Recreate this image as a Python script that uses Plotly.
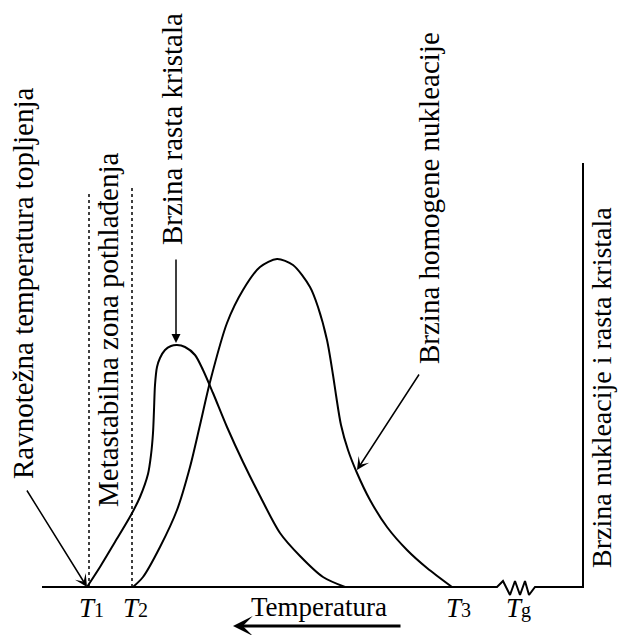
import plotly.graph_objects as go

# Horizontal position (temperature axis, decreasing to the right) and rate (above baseline)
growth_x = [87, 100, 115, 131, 140, 148, 151, 153, 154, 155, 157, 160, 165, 171, 177, 185, 195, 203, 213, 227, 243, 260, 280, 300, 323, 345]
growth_y = [0, 20, 45, 72, 90, 113, 132, 154, 177, 202, 220, 229, 237, 241, 242, 240, 232, 217, 194, 160, 125, 91, 54, 31, 10, 0]

nucl_x = [133, 143, 160, 177, 190, 200, 210, 227, 243, 260, 277, 293, 310, 318, 327, 333, 336, 341, 348, 357, 370, 387, 407, 427, 452]
nucl_y = [0, 10, 40, 77, 120, 162, 205, 264, 297, 320, 328, 322, 300, 280, 247, 212, 192, 162, 137, 114, 87, 60, 37, 19, 0]

axis_x = [42, 497, 503, 510, 515, 520, 525, 529, 535, 583, 583]
axis_y = [0, 0, 6, -8, 6, -8, 6, -8, 0, 0, 424]

zone_x = [89, 132]
zone_top = [395, 402]

tick_names = ["1", "2", "3", "g"]
tick_x = [91, 135, 458, 518]

FONT = "Liberation Serif"

fig = go.Figure()

fig.add_trace(go.Scatter(x=axis_x, y=axis_y, mode="lines",
                         line=dict(color="black", width=2), hoverinfo="skip"))
for zx, zt in zip(zone_x, zone_top):
    fig.add_trace(go.Scatter(x=[zx, zx], y=[0, zt], mode="lines",
                             line=dict(color="black", width=1.5, dash="dot"), hoverinfo="skip"))
fig.add_trace(go.Scatter(x=growth_x, y=growth_y, mode="lines",
                         line=dict(color="black", width=2, shape="spline", smoothing=0.8), hoverinfo="skip"))
fig.add_trace(go.Scatter(x=nucl_x, y=nucl_y, mode="lines",
                         line=dict(color="black", width=2, shape="spline", smoothing=0.8), hoverinfo="skip"))

ann = []
def vtext(txt, x, y, size=29):
    ann.append(dict(text=txt, x=x, y=y, xref="x", yref="y", showarrow=False, textangle=-90,
                    xanchor="center", yanchor="middle", font=dict(family=FONT, size=size, color="black")))

vtext("Ravnotežna temperatura topljenja", 23, 303)
vtext("Metastabilna zona pothlađenja", 108, 257)
vtext("Brzina rasta kristala", 172, 458)
vtext("Brzina homogene nukleacije", 429, 389)
vtext("Brzina nukleacije i rasta kristala", 601, 199, size=28)

for name, tx in zip(tick_names, tick_x):
    ann.append(dict(text="<i>T</i><span style='font-size:20px'>%s</span>" % name, x=tx, y=-21,
                    xref="x", yref="y", showarrow=False,
                    xanchor="center", yanchor="middle", font=dict(family=FONT, size=27, color="black")))

ann.append(dict(text="Temperatura", x=319, y=-20, xref="x", yref="y", showarrow=False,
                xanchor="center", yanchor="middle", font=dict(family=FONT, size=27, color="black")))

def arrow(hx, hy, tx, ty, width=1.5, head=2, size=1.2):
    ann.append(dict(text="", x=hx, y=hy, ax=tx, ay=ty, xref="x", yref="y", axref="x", ayref="y",
                    showarrow=True, arrowhead=head, arrowsize=size, arrowwidth=width, arrowcolor="black",
                    standoff=0, startstandoff=0))

arrow(87, 0, 26, 98, head=3, size=1.4)
arrow(176, 244, 176, 329)
arrow(357, 117, 420, 214, head=3, size=1.4)
arrow(233, -39, 402, -39, width=3, head=3, size=1.1)

fig.update_layout(
    width=618, height=635, margin=dict(l=0, r=0, t=0, b=0),
    paper_bgcolor="white", plot_bgcolor="white", showlegend=False,
    xaxis=dict(range=[0, 618], visible=False, fixedrange=True),
    yaxis=dict(range=[-48, 587], visible=False, fixedrange=True),
    annotations=ann,
)

fig.write_html("out.html", config={"displayModeBar": False},
               post_script="document.body.style.margin='0';document.body.style.padding='0';"
                           "document.body.style.overflow='hidden';")
